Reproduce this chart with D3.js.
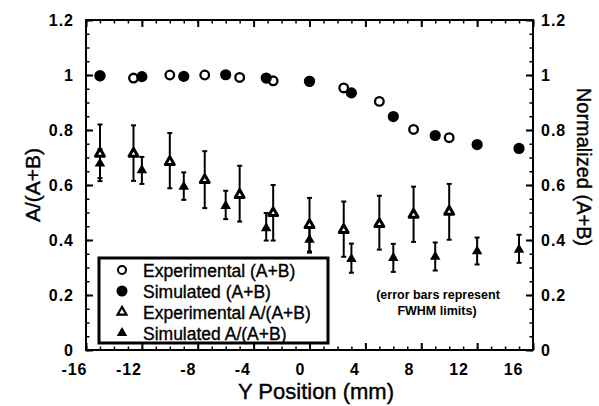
<!DOCTYPE html>
<html>
<head>
<meta charset="utf-8">
<script src="https://cdn.jsdelivr.net/npm/d3@7"></script>
<style>
  body { margin: 0; background: #fff; }
  svg { font-family: "Liberation Sans", Arial, Helvetica, sans-serif; }
</style>
</head>
<body>
<script>
// values
const expCircleX = [-15, -12.6, -10, -7.5, -5, -2.6, 0, 2.45, 5, 7.45, 10];
const expCircleY = [0.997, 0.989, 1.0, 1.0, 0.991, 0.979, 0.977, 0.953, 0.904, 0.802, 0.772];
const simCircleX = [-15, -12, -9, -6, -3.1, 0, 3, 6, 9, 12, 15];
const simCircleY = [0.997, 0.994, 0.995, 1.001, 0.989, 0.977, 0.935, 0.849, 0.78, 0.747, 0.733];

const expTriX = expCircleX;
const expTriY = [0.714, 0.714, 0.684, 0.618, 0.564, 0.498, 0.455, 0.437, 0.458, 0.492, 0.503];
const expTriHi = [0.82, 0.817, 0.789, 0.723, 0.67, 0.6, 0.553, 0.54, 0.561, 0.594, 0.604];
const expTriLo = [0.614, 0.615, 0.588, 0.516, 0.467, 0.398, 0.358, 0.339, 0.365, 0.393, 0.401];

const simTriX = simCircleX;
const simTriY = [0.678, 0.654, 0.594, 0.524, 0.443, 0.401, 0.331, 0.335, 0.339, 0.359, 0.365];
const simTriHi = [0.73, 0.702, 0.646, 0.579, 0.498, 0.452, 0.387, 0.386, 0.391, 0.409, 0.419];
const simTriLo = [0.625, 0.604, 0.546, 0.476, 0.398, 0.354, 0.281, 0.284, 0.289, 0.311, 0.317];

const xTicks = [-16, -12, -8, -4, 0, 4, 8, 12, 16];
const yTicks = [0, 0.2, 0.4, 0.6, 0.8, 1, 1.2];
const yTickLabels = ["0", "0.2", "0.4", "0.6", "0.8", "1", "1.2"];
const legendLabels = ["Experimental (A+B)", "Simulated (A+B)", "Experimental A/(A+B)", "Simulated A/(A+B)"];

var w = 599, h = 406;
var pLeft = 86, pRight = 533, pTop = 20, pBottom = 350;

var x = d3.scaleLinear().domain([-16, 16]).range([pLeft, pRight]);
var y = d3.scaleLinear().domain([0, 1.2]).range([pBottom, pTop]);
// the printed tick labels sit slightly narrower than the ticks
var xLab = d3.scaleLinear().domain([-16, 16]).range([87, 523]);

var svg = d3.select("body").append("svg").attr("width", w).attr("height", h);

var minorX = d3.range(-16, 17, 1);
var minorY = d3.range(0, 1.2001, 0.05);

function ticks(axis, tx, ty, values, size, sw) {
  var g = svg.append("g").attr("transform", `translate(${tx},${ty})`)
    .call(axis.tickValues(values).tickSize(size).tickFormat(""));
  g.select(".domain").remove();
  g.selectAll("line").attr("stroke", "#000").attr("stroke-width", sw);
}
ticks(d3.axisBottom(x), 0, pBottom, minorX, -3.5, 1.5);
ticks(d3.axisBottom(x), 0, pBottom, xTicks, -7, 2);
ticks(d3.axisTop(x), 0, pTop, minorX, -3.5, 1.5);
ticks(d3.axisTop(x), 0, pTop, xTicks, -7, 2);
ticks(d3.axisLeft(y), pLeft, 0, minorY, -3.5, 1.5);
ticks(d3.axisLeft(y), pLeft, 0, yTicks, -7, 2);
ticks(d3.axisRight(y), pRight, 0, minorY, -3.5, 1.5);
ticks(d3.axisRight(y), pRight, 0, yTicks, -7, 2);

svg.append("rect")
  .attr("x", pLeft).attr("y", pTop)
  .attr("width", pRight - pLeft).attr("height", pBottom - pTop)
  .attr("fill", "none").attr("stroke", "#000").attr("stroke-width", 2);

// tick labels
function labels(g) {
  g.select(".domain").remove();
  g.selectAll("line").remove();
  g.selectAll("text")
    .attr("fill", "#000")
    .style("font-size", "16px")
    .style("font-weight", "bold")
    .style("letter-spacing", "1px");
}
svg.append("g").attr("transform", `translate(${pLeft},0)`)
  .call(d3.axisLeft(y).tickValues(yTicks).tickSize(0).tickPadding(12)
    .tickFormat((d, i) => yTickLabels[i]))
  .call(labels);
svg.append("g").attr("transform", `translate(${pRight},0)`)
  .call(d3.axisRight(y).tickValues(yTicks).tickSize(0).tickPadding(8)
    .tickFormat((d, i) => yTickLabels[i]))
  .call(labels);
svg.append("g").attr("transform", `translate(0,${pBottom})`)
  .call(d3.axisBottom(xLab).tickValues(xTicks).tickSize(0).tickPadding(14)
    .tickFormat(d => String(d)))
  .call(labels)
  .selectAll("text").attr("text-anchor", "end");

// axis titles
svg.append("text")
  .attr("transform", "translate(32,185) rotate(-90)")
  .attr("text-anchor", "middle").attr("dominant-baseline", "central")
  .style("font-size", "21px").attr("stroke", "#000").attr("stroke-width", 0.4)
  .text("A/(A+B)");
svg.append("text")
  .attr("transform", "translate(584,167) rotate(90)")
  .attr("text-anchor", "middle").attr("dominant-baseline", "central")
  .style("font-size", "20px").attr("stroke", "#000").attr("stroke-width", 0.4)
  .text("Normalized (A+B)");
svg.append("text")
  .attr("x", 316).attr("y", 399)
  .attr("text-anchor", "middle")
  .style("font-size", "22px").attr("stroke", "#000").attr("stroke-width", 0.4)
  .text("Y Position (mm)");

// error bars
function errorBars(xs, hi, lo) {
  var g = svg.append("g").attr("stroke", "#000").attr("stroke-width", 2);
  xs.forEach((xv, i) => {
    var cx = x(xv);
    g.append("line").attr("x1", cx).attr("x2", cx).attr("y1", y(hi[i])).attr("y2", y(lo[i]));
    g.append("line").attr("x1", cx - 2.5).attr("x2", cx + 2.5).attr("y1", y(hi[i])).attr("y2", y(hi[i]));
    g.append("line").attr("x1", cx - 2.5).attr("x2", cx + 2.5).attr("y1", y(lo[i])).attr("y2", y(lo[i]));
  });
}
errorBars(expTriX, expTriHi, expTriLo);
errorBars(simTriX, simTriHi, simTriLo);

var triOpen = d3.symbol(d3.symbolTriangle).size(34);
var triFill = d3.symbol(d3.symbolTriangle).size(48);

svg.append("g").selectAll("path").data(expTriX).join("path")
  .attr("transform", (d, i) => `translate(${x(d)},${y(expTriY[i])})`)
  .attr("d", triOpen)
  .attr("fill", "#fff").attr("stroke", "#000").attr("stroke-width", 3)
  .attr("stroke-linejoin", "round");
svg.append("g").selectAll("path").data(simTriX).join("path")
  .attr("transform", (d, i) => `translate(${x(d)},${y(simTriY[i])})`)
  .attr("d", triFill)
  .attr("fill", "#000");

svg.append("g").selectAll("circle").data(expCircleX).join("circle")
  .attr("cx", d => x(d)).attr("cy", (d, i) => y(expCircleY[i]))
  .attr("r", 4.3)
  .attr("fill", "#fff").attr("stroke", "#000").attr("stroke-width", 2.3);
svg.append("g").selectAll("circle").data(simCircleX).join("circle")
  .attr("cx", d => x(d)).attr("cy", (d, i) => y(simCircleY[i]))
  .attr("r", 5.6)
  .attr("fill", "#000");

// legend
var lg = svg.append("g");
lg.append("rect")
  .attr("x", 99).attr("y", 258).attr("width", 229).attr("height", 85)
  .attr("fill", "#fff").attr("stroke", "#000").attr("stroke-width", 3);
var rowY = d3.scalePoint().domain(legendLabels).range([270, 333]);
legendLabels.forEach((lab, i) => {
  var cy = rowY(lab);
  if (i === 0) {
    lg.append("circle").attr("cx", 122).attr("cy", cy).attr("r", 4)
      .attr("fill", "#fff").attr("stroke", "#000").attr("stroke-width", 2);
  } else if (i === 1) {
    lg.append("circle").attr("cx", 122).attr("cy", cy).attr("r", 5.5).attr("fill", "#000");
  } else {
    lg.append("path").attr("transform", `translate(122,${cy})`)
      .attr("d", i === 2 ? triOpen : triFill)
      .attr("fill", i === 2 ? "#fff" : "#000")
      .attr("stroke", i === 2 ? "#000" : "none").attr("stroke-width", 2.2);
  }
  lg.append("text").attr("x", 143).attr("y", cy + 1)
    .attr("dominant-baseline", "central")
    .style("font-size", "17.5px").attr("stroke", "#000").attr("stroke-width", 0.35)
    .text(lab);
});

// note
var note = svg.append("text").attr("text-anchor", "middle")
  .style("font-size", "12.5px").style("font-weight", "bold");
note.append("tspan").attr("x", 438).attr("y", 299).text("(error bars represent");
note.append("tspan").attr("x", 437).attr("y", 315).text("FWHM limits)");
</script>
</body>
</html>
